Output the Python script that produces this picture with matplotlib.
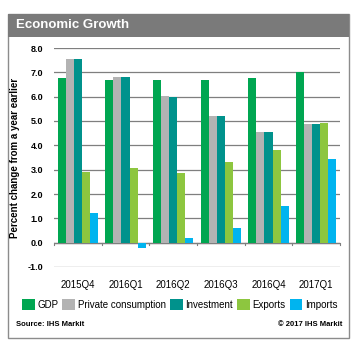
import matplotlib
matplotlib.use('Agg')

import numpy as np
import matplotlib.pyplot as plt
from matplotlib.patches import Rectangle

plt.rcParams['font.family'] = ['Liberation Sans', 'DejaVu Sans']

quarters = ['2015Q4', '2016Q1', '2016Q2', '2016Q3', '2016Q4', '2017Q1']
series = ['GDP', 'Private consumption', 'Investment', 'Exports', 'Imports']
gdp = [6.75, 6.7, 6.7, 6.7, 6.78, 7.0]
private_consumption = [7.55, 6.82, 6.03, 5.2, 4.54, 4.87]
investment = [7.55, 6.82, 5.97, 5.2, 4.54, 4.87]
exports = [2.9, 3.05, 2.88, 3.32, 3.82, 4.93]
imports = [1.22, -0.2, 0.21, 0.62, 1.5, 3.42]
colors = ['#00A651', '#B3B3B3', '#00928C', '#8DC63F', '#00B4EF']

W, H = 364, 343
fig = plt.figure(figsize=(W / 100, H / 100), dpi=100)

def px(x0, y0, x1, y1):
    # pixel box (top-left origin) -> figure fraction rect
    return [x0 / W, 1 - y1 / H, (x1 - x0) / W, (y1 - y0) / H]

# outer frame and title bar
bg = fig.add_axes([0, 0, 1, 1])
bg.set_xlim(0, W)
bg.set_ylim(H, 0)
bg.axis('off')
bg.add_patch(Rectangle((8, 14), 341, 324, facecolor='white', edgecolor='#8C8C8C', lw=1.0))
bg.add_patch(Rectangle((8, 14), 341, 23, facecolor='#7A7A7A', edgecolor='none'))
bg.text(16, 25.5, 'Economic Growth', color='white', fontsize=9.5, fontweight='bold', va='center')

ax = fig.add_axes(px(54, 48, 340, 267))
values = [gdp, private_consumption, investment, exports, imports]
x = np.arange(len(quarters))
bw = 0.168
for i, (vals, c) in enumerate(zip(values, colors)):
    ax.bar(x + (i - 2) * bw, vals, width=bw, color=c, label=series[i], zorder=2, linewidth=0)

ax.set_xlim(-0.5, len(quarters) - 0.5)
ax.set_ylim(-1.0, 8.0)
ax.set_yticks(np.arange(-1, 9, 1))
ax.set_yticklabels(['%.1f' % v for v in np.arange(-1, 9, 1)], fontsize=6.5, fontweight='bold')
ax.yaxis.grid(True, color='#7F7F7F', lw=0.9, zorder=0)
ax.tick_params(axis='y', length=0, pad=8)
for s in ax.spines.values():
    s.set_visible(False)

# zero line with category separators
ax.axhline(0, color='#7F7F7F', lw=0.9, zorder=1)
for b in np.arange(-0.5, len(quarters), 1):
    ax.plot([b, b], [0, -0.08], color='#7F7F7F', lw=0.8, clip_on=False)

ax.set_xticks(x)
ax.set_xticklabels(quarters, fontsize=7)
ax.tick_params(axis='x', length=0, pad=9)
ax.set_ylabel('Percent change from a year earlier', fontsize=7, fontweight='bold', labelpad=5)

ax.legend(loc='upper center', bbox_to_anchor=(0.44, -0.13), ncol=5, frameon=False,
          fontsize=7, handlelength=1.3, handleheight=1.3, handletextpad=0.3,
          columnspacing=0.4, borderaxespad=0)

bg.text(16, 324, 'Source: IHS Markit', fontsize=5.5, fontweight='bold', va='center')
bg.text(342, 324, '\u00a9 2017 IHS Markit', fontsize=5.5, fontweight='bold', va='center', ha='right')

fig.savefig('out.png', dpi=100)
